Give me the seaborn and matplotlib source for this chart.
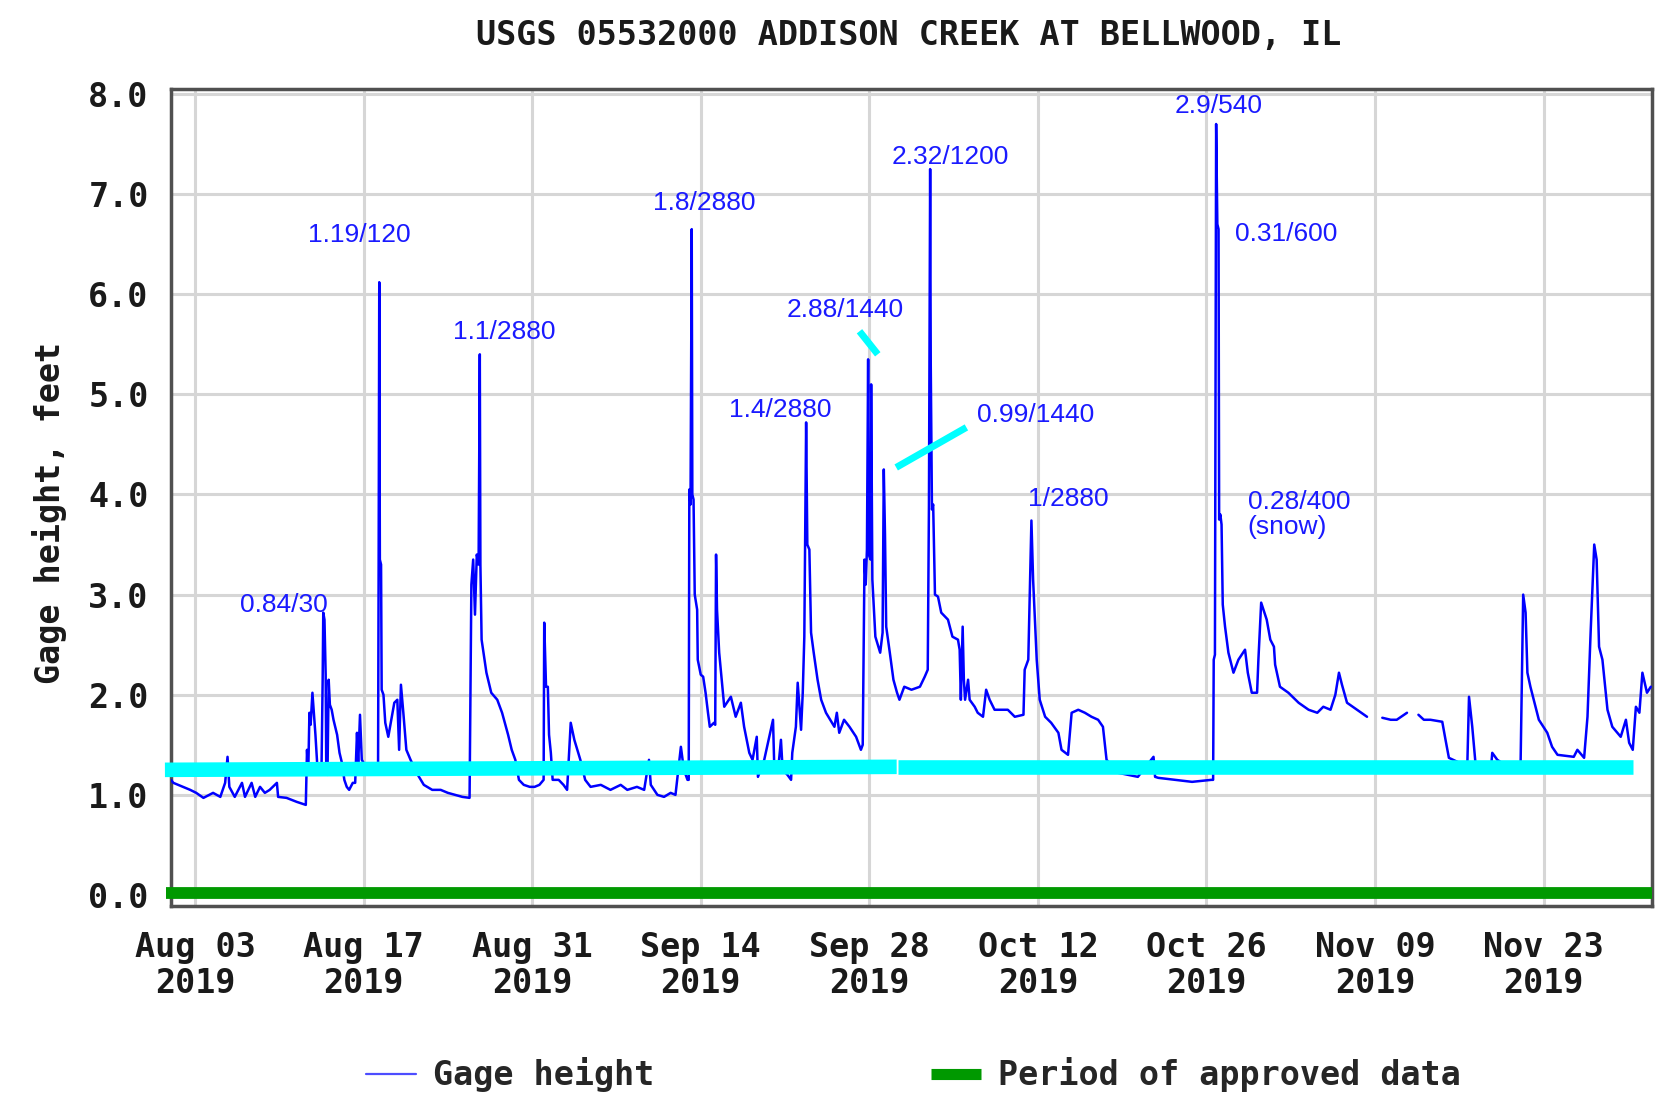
import numpy as np
import pandas as pd
import matplotlib
matplotlib.use("Agg")
import matplotlib.pyplot as plt
from matplotlib.lines import Line2D
import seaborn as sns

# gage height record: days since 2019-08-01 00:00 and feet (nan = gap in record)
gage_day = [
    0.0, 0.2, 1.0, 1.6, 2.1, 2.7, 3.5, 4.1, 4.5, 4.7, 4.85, 5.3, 5.9, 6.15, 6.7, 7.0, 7.4, 7.8, 8.2, 8.8, 8.9, 9.6, 10.45, 11.2,
    11.3, 11.4, 11.5, 11.6, 11.75, 11.85, 12.0, 12.15, 12.5, 12.6, 12.65, 12.75, 12.85, 12.9, 13.0, 13.1, 13.2, 13.35, 13.5, 13.8,
    14.0, 14.2, 14.4, 14.6, 14.8, 15.1, 15.3, 15.45, 15.55, 15.7, 15.85, 16.1, 16.6, 17.2,
    17.25, 17.3, 17.35, 17.45, 17.5, 17.65, 17.8, 18.05, 18.3, 18.55, 18.8, 18.95, 19.1, 19.3, 19.55, 19.9, 20.5, 21.0, 21.7,
    22.4, 23.0, 23.6, 24.2, 24.8,
    24.95, 25.1, 25.25, 25.4, 25.55, 25.65, 25.7, 25.8, 26.2, 26.6, 27.1, 27.5, 28.0, 28.3, 28.6, 28.9, 29.3, 29.8, 30.2, 30.6, 30.95,
    31.0, 31.15, 31.3, 31.4, 31.55, 31.7, 32.2, 32.6, 32.9, 33.2, 33.5, 33.75, 34.0, 34.4, 34.85, 35.7, 36.5, 37.35, 37.9, 38.7,
    39.3, 39.7, 39.85, 40.4, 40.95, 41.5, 41.9, 42.35, 42.6, 42.9, 43.0,
    43.05, 43.15, 43.25, 43.3, 43.4, 43.5, 43.7, 43.75, 44.0, 44.2, 44.4, 44.6, 44.75, 45.1, 45.2, 45.27, 45.35, 45.53, 45.95,
    46.5, 46.9, 47.33, 47.6, 48.03, 48.3, 48.65, 48.75, 49.27, 50.0, 50.1, 50.4, 50.66, 50.8, 51.2, 51.5, 51.6, 51.9, 52.05,
    52.33, 52.47, 52.6, 52.75, 52.85, 53.02, 53.16, 53.38, 53.7, 54.0, 54.4, 55.1, 55.3, 55.5, 55.9, 56.35, 56.9, 57.3, 57.45,
    57.5, 57.6, 57.7, 57.8, 57.9, 57.95, 58.1, 58.15, 58.25, 58.5, 58.9, 59.1, 59.2, 59.3, 59.4, 59.7, 60.0, 60.3, 60.5, 60.9,
    61.5, 62.2, 62.6, 62.85, 62.95, 63.05, 63.1, 63.2, 63.3, 63.45, 63.7, 63.97, 64.53, 64.9, 65.36, 65.5, 65.6, 65.75, 65.85,
    65.95, 66.2, 66.33, 66.75, 67.0, 67.44, 67.7, 67.99, 68.4, 69.5, 70.08, 70.8, 70.9, 71.2, 71.46, 71.6, 71.9, 72.15, 72.6,
    73.1, 73.7, 73.96, 74.5, 74.8, 75.35, 75.9, 76.45, 77.0, 77.4, 77.7, 78.67, 80.3, 81.6, 81.73, 82.0, 83.4, 84.8, 86.4, 86.55,
    86.6, 86.7, 86.8, 86.9, 87.0, 87.05, 87.15, 87.25, 87.35, 87.54, 87.82, 88.24, 88.65, 89.2, 89.43, 89.76, 90.2, 90.31,
    90.54, 91.0, 91.3, 91.6, 91.7, 92.1, 92.8, 93.65, 94.48, 95.2, 95.7, 96.3, 96.7, 97.0, 97.25, 97.67, 98.5, 99.33,
    99.4, 100.6, 101.3, 101.8, 102.65, 102.7, 103.6, 104.05, 104.6, 105.58, 105.85, 106.13, 107.37, 107.65, 107.8, 108.07,
    108.35, 109.6, 109.73, 110.15, 111.8, 112.08, 112.3, 112.5, 112.65, 112.9, 113.6, 114.3, 114.7, 115.15, 116.5, 116.8,
    117.36, 117.64, 117.9, 118.2, 118.4, 118.6, 118.88, 119.3, 119.7, 120.4, 120.83, 121.1, 121.4, 121.66, 121.95, 122.2,
    122.58, 122.9,
]
gage_ft = [
    1.15, 1.12, 1.08, 1.05, 1.02, 0.97, 1.02, 0.98, 1.12, 1.38, 1.08, 0.98, 1.12, 0.98, 1.12, 0.98, 1.08, 1.02, 1.05, 1.12, 0.98, 0.97, 0.93, 0.90,
    1.45, 1.20, 1.82, 1.70, 2.02, 1.85, 1.60, 1.30, 1.22, 2.15, 2.82, 2.75, 2.20, 1.22, 1.20, 2.15, 1.90, 1.85, 1.75, 1.60,
    1.42, 1.32, 1.15, 1.08, 1.05, 1.12, 1.12, 1.62, 1.30, 1.80, 1.35, 1.30, 1.22, 1.25,
    3.35, 6.12, 3.35, 3.30, 2.05, 2.00, 1.72, 1.58, 1.75, 1.92, 1.95, 1.45, 2.10, 1.82, 1.45, 1.35, 1.20, 1.10, 1.05,
    1.05, 1.02, 1.00, 0.98, 0.97,
    3.10, 3.35, 2.80, 3.40, 3.30, 5.40, 3.30, 2.55, 2.22, 2.02, 1.95, 1.82, 1.60, 1.45, 1.35, 1.15, 1.10, 1.08, 1.08, 1.10, 1.15,
    2.72, 2.08, 2.08, 1.60, 1.42, 1.15, 1.15, 1.10, 1.05, 1.72, 1.55, 1.45, 1.35, 1.15, 1.08, 1.10, 1.05, 1.10, 1.05, 1.08,
    1.05, 1.35, 1.10, 1.00, 0.98, 1.02, 1.00, 1.48, 1.25, 1.15, 1.15,
    4.05, 3.90, 6.65, 4.00, 3.95, 3.00, 2.85, 2.35, 2.20, 2.18, 2.02, 1.82, 1.68, 1.72, 1.70, 3.40, 2.85, 2.42, 1.88,
    1.98, 1.78, 1.92, 1.68, 1.42, 1.35, 1.58, 1.18, 1.35, 1.75, 1.30, 1.22, 1.55, 1.25, 1.20, 1.15, 1.42, 1.68, 2.12,
    1.65, 2.02, 2.58, 4.72, 3.50, 3.45, 2.62, 2.42, 2.15, 1.95, 1.82, 1.68, 1.82, 1.62, 1.75, 1.68, 1.58, 1.45, 1.50,
    2.15, 3.35, 3.10, 3.45, 5.35, 3.40, 3.35, 5.10, 3.15, 2.58, 2.42, 2.62, 4.25, 3.60, 2.68, 2.42, 2.15, 2.02, 1.95, 2.08,
    2.05, 2.08, 2.18, 2.25, 3.90, 7.25, 5.30, 3.85, 3.90, 3.00, 2.98, 2.82, 2.75, 2.58, 2.55, 2.45, 1.95, 2.68, 2.15,
    1.95, 2.15, 1.95, 1.88, 1.82, 1.78, 2.05, 1.95, 1.85, 1.85, 1.78, 1.80, 2.25, 2.35, 3.74, 3.15, 2.35, 1.95, 1.78,
    1.72, 1.62, 1.45, 1.40, 1.82, 1.85, 1.82, 1.78, 1.75, 1.68, 1.35, 1.22, 1.18, 1.38, 1.18, 1.17, 1.15, 1.13, 1.15, 1.15,
    2.35, 2.40, 7.70, 6.70, 6.65, 3.75, 3.80, 3.70, 2.90, 2.68, 2.42, 2.22, 2.35, 2.45, 2.22, 2.02, 2.02, 2.35,
    2.92, 2.75, 2.55, 2.48, 2.30, 2.08, 2.02, 1.92, 1.85, 1.82, 1.88, 1.85, 2.00, 2.22, 2.10, 1.92, 1.85, 1.78,
    np.nan, 1.77, 1.75, 1.75, 1.82, np.nan, 1.80, 1.75, 1.75, 1.73, 1.55, 1.37, 1.30, 1.25, 1.98, 1.68,
    1.30, 1.22, 1.42, 1.35, 1.22, 1.28, 3.00, 2.82, 2.22, 2.08, 1.75, 1.62, 1.48, 1.40, 1.38, 1.45,
    1.37, 1.78, 2.62, 3.50, 3.35, 2.48, 2.35, 1.85, 1.68, 1.58, 1.75, 1.52, 1.45, 1.88, 1.82, 2.22,
    2.02, 2.08,
]

tick_dates = ["2019-08-03", "2019-08-17", "2019-08-31", "2019-09-14", "2019-09-28",
              "2019-10-12", "2019-10-26", "2019-11-09", "2019-11-23"]
tick_labels = ["Aug 03\n2019", "Aug 17\n2019", "Aug 31\n2019", "Sep 14\n2019", "Sep 28\n2019",
               "Oct 12\n2019", "Oct 26\n2019", "Nov 09\n2019", "Nov 23\n2019"]
y_ticks = [0, 1, 2, 3, 4, 5, 6, 7, 8]

# hand-written storm notes (rain / minutes)
note_text = ["0.84/30", "1.19/120", "1.1/2880", "1.8/2880", "1.4/2880", "2.88/1440",
             "2.32/1200", "0.99/1440", "1/2880", "2.9/540", "0.31/600", "0.28/400\n(snow)"]
note_day = [9.38, 15.63, 27.68, 44.31, 50.64, 56.0, 64.72, 71.85, 74.53, 86.97, 92.6, 89.43]
note_ft = [2.90, 6.59, 5.62, 6.91, 4.84, 5.84, 7.37, 4.79, 3.95, 7.88, 6.60, 3.80]
note_ha = ["center"] * 11 + ["left"]

# hand-drawn cyan marks
baseline_day = [[-0.5, 60.27], [60.37, 121.4]]
baseline_ft = [[1.25, 1.28], [1.28, 1.28]]
pointer_day = [[57.18, 58.7], [60.23, 66.06]]
pointer_ft = [[5.63, 5.40], [4.27, 4.67]]

approved_day = [-0.45, 123.0]
approved_ft = 0.02

start = pd.Timestamp("2019-08-01")


def to_time(d):
    return start + pd.to_timedelta(d, unit="D")


assert len(gage_day) == len(gage_ft)
df = pd.DataFrame({"day": gage_day, "ft": gage_ft})
df["segment"] = df["ft"].isna().cumsum()
df = df.dropna()
df["time"] = to_time(df["day"])

sns.set_style("white")
mono = "DejaVu Sans Mono"
blue = "#0000ff"
cyan = "#00ffff"
green = "#009900"

fig = plt.figure(figsize=(16.58, 11.08), dpi=100)
ax = fig.add_axes([0.1031, 0.1823, 0.8933, 0.7374])

sns.lineplot(data=df, x="time", y="ft", units="segment", estimator=None, sort=False,
             color=blue, lw=1.8, ax=ax, zorder=3)

ax.plot([to_time(d) for d in approved_day], [approved_ft, approved_ft], color=green, lw=8.5,
        solid_capstyle="butt", clip_on=False, zorder=4)

for xs, ys in zip(baseline_day, baseline_ft):
    ax.plot([to_time(d) for d in xs], ys, color=cyan, lw=10.5, solid_capstyle="butt",
            clip_on=False, zorder=5)
for xs, ys in zip(pointer_day, pointer_ft):
    ax.plot([to_time(d) for d in xs], ys, color=cyan, lw=5, solid_capstyle="butt", zorder=5)

for t, d, y, ha in zip(note_text, note_day, note_ft, note_ha):
    ax.text(to_time(d), y, t, color="#1a1aff", fontsize=19, family="Liberation Sans",
            ha=ha, va="center", linespacing=1.1, zorder=6)

ax.set_xlim(to_time(0), to_time(123))
ax.set_ylim(-0.11, 8.05)
ax.set_xticks(pd.to_datetime(tick_dates))
ax.set_xticklabels(tick_labels, fontsize=24, fontweight="bold", family=mono, linespacing=1.1)
ax.set_yticks(y_ticks)
ax.set_yticklabels([f"{v:.1f}" for v in y_ticks], fontsize=24, fontweight="bold", family=mono)
ax.tick_params(axis="x", length=0, pad=18, colors="#1a1a1a")
ax.tick_params(axis="y", length=0, pad=16, colors="#1a1a1a")
ax.set_xlabel("")
ax.set_ylabel("")
ax.grid(True, color="#d6d6d6", lw=2.2)
ax.set_axisbelow(True)
for s in ax.spines.values():
    s.set_visible(True)
    s.set_color("#505050")
    s.set_linewidth(2.5)

fig.text(0.548, 1 - 35 / 1108, "USGS 05532000 ADDISON CREEK AT BELLWOOD, IL", ha="center", va="center",
         fontsize=24, fontweight="bold", family=mono, color="#1a1a1a")
fig.text(50 / 1658, 1 - 513 / 1108, "Gage height, feet", rotation=90, ha="center", va="center",
         fontsize=24, fontweight="bold", family=mono, color="#1a1a1a")

handles = [Line2D([], [], color="#4d4dff", lw=1.6),
           Line2D([], [], color=green, lw=8, solid_capstyle="butt")]
fig.legend(handles, ["Gage height", "Period of approved data"], loc="center", bbox_to_anchor=(0.551, 0.030),
           ncol=2, frameon=False, handlelength=1.5, handletextpad=0.5, columnspacing=8.3,
           prop={"family": mono, "weight": "bold", "size": 24})

fig.savefig("out.png", dpi=100)
